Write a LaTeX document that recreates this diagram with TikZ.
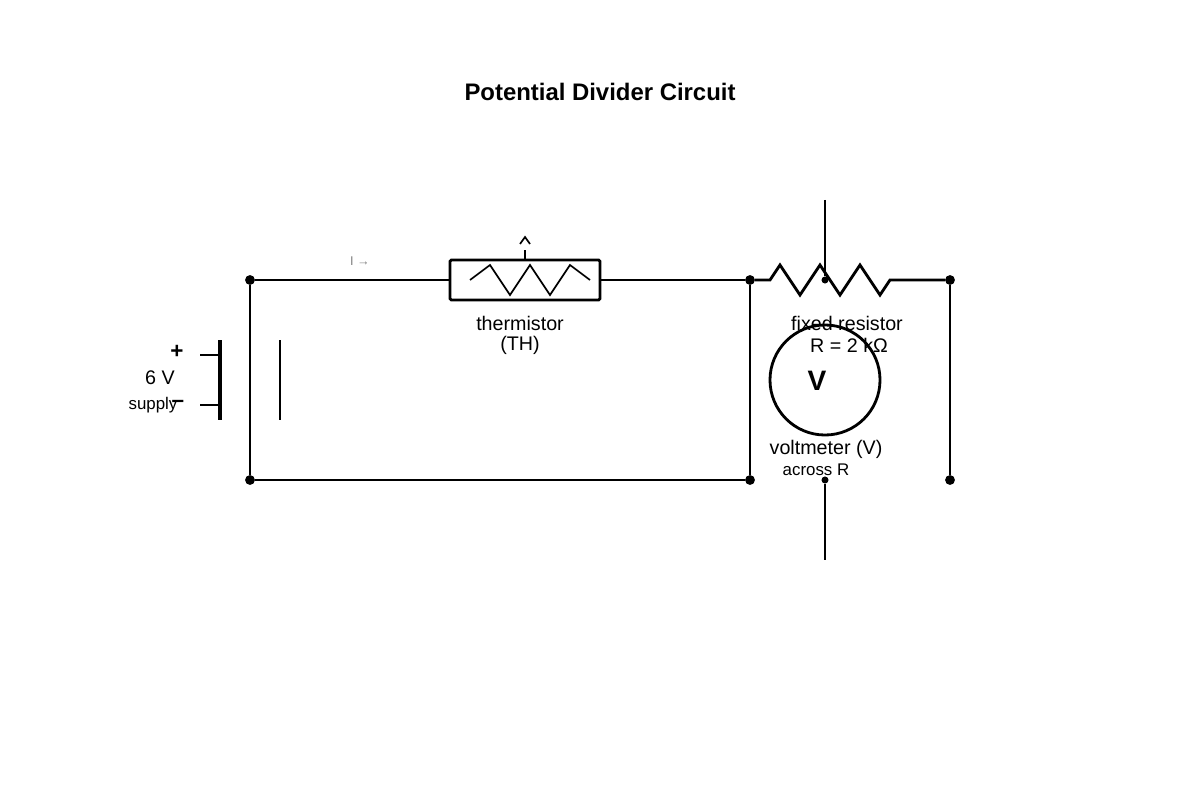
\documentclass[tikz,border=0pt]{standalone}
\usepackage{fontspec}
\setmainfont{Liberation Sans}
\begin{document}
\begin{tikzpicture}[x=0.025cm,y=-0.025cm,
    wire/.style={line width=2pt},
    dot/.style={circle,fill=black,inner sep=0pt,minimum size=7pt},
    lbl/.style={font=\fontsize{14}{15}\selectfont},
    small/.style={font=\fontsize{12}{13}\selectfont}]
  \useasboundingbox (0,0) rectangle (1200,800);

  % Title
  \node[font=\fontsize{17}{18}\selectfont\bfseries] (title) at (600,92) {Potential Divider Circuit};

  % Junctions
  \node[dot] (tl) at (250,280) {};
  \node[dot] (tm) at (750,280) {};
  \node[dot] (tr) at (950,280) {};
  \node[dot] (bl) at (250,480) {};
  \node[dot] (bm) at (750,480) {};
  \node[dot] (br) at (950,480) {};
  \node[dot,minimum size=5pt] (vt) at (825,280) {};
  \node[dot,minimum size=5pt] (vb) at (825,480) {};
  \coordinate (vtop) at (825,200);
  \coordinate (vbot) at (825,560);
  \coordinate (thw) at (450,280);
  \coordinate (the) at (600,280);

  % Thermistor
  \draw[wire,rounded corners=1pt] (450,260) rectangle (600,300);
  \draw[line width=1.2pt] (470,280) -- (490,265) -- (510,295) -- (530,265) -- (550,295) -- (570,265) -- (590,280);
  \draw[line width=1.2pt] (525,260) -- (525,250);
  \draw[line width=1.2pt] (520,244) -- (525,237) -- (530,244);

  % Wires
  \draw[wire] (tl) -- (thw);
  \draw[wire] (the) -- (tm);
  \draw[wire] (tl) -- (bl) -- (bm) -- (tm);
  \draw[wire] (tm) -- (770,280) -- (780,265) -- (800,295) -- (820,265) -- (840,295)
    -- (860,265) -- (880,295) -- (890,280) -- (tr);
  \draw[wire] (tr) -- (br);
  \draw[wire] (vtop) -- (vt);
  \draw[wire] (vb) -- (vbot);

  % Voltmeter
  \draw[wire] (825,380) circle[radius=1.375cm];

  % Battery
  \draw[line width=2.5pt] (220,340) -- (220,420);
  \draw[line width=1.2pt] (280,340) -- (280,420);
  \draw[wire] (200,355) -- (220,355);
  \draw[wire] (200,405) -- (220,405);

  % Labels
  \node[font=\fontsize{16}{17}\selectfont\bfseries] (plus) at (177,352) {+};
  \node[font=\fontsize{16}{17}\selectfont\bfseries,inner sep=0pt] (minus) at (178,404) {–};
  \node[lbl] (emf) at (160,378) {6 V};
  \node[small] (sup) at (153,405) {supply};
  \node[text=gray,font=\fontsize{9}{10}\selectfont] (cur) at (360,261) {I →};
  \node[lbl] (thl) at (520,323) {thermistor};
  \node[lbl] (thn) at (520,345) {(TH)};
  \node[lbl] (rl) at (847,323) {fixed resistor};
  \node[lbl] (rv) at (849,345) {R = 2 kΩ};
  \node[font=\fontsize{20}{21}\selectfont\bfseries] (vlet) at (817,381) {V};
  \node[lbl] (vml) at (826,449) {voltmeter (V)};
  \node[small] (vma) at (816,470) {across R};
\end{tikzpicture}
\end{document}
